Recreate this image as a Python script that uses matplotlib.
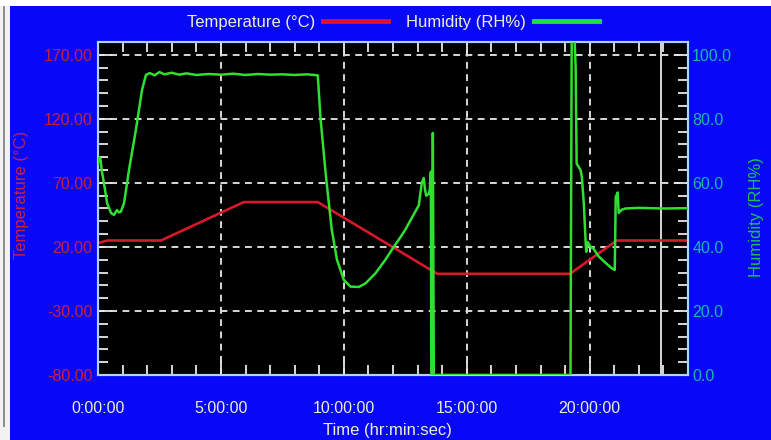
import matplotlib
matplotlib.use("Agg")
import matplotlib.pyplot as plt
from matplotlib.lines import Line2D
from matplotlib.patches import Rectangle
from matplotlib.ticker import MultipleLocator, FixedLocator, FuncFormatter

plt.rcParams['font.family'] = ['Liberation Sans', 'DejaVu Sans']

# ---------------- data ----------------
temp_time = [0.0, 0.38, 2.56, 5.93, 8.94, 13.8, 19.2, 21.1, 24.0]
temp_vals = [23.0, 25.0, 25.0, 55.0, 55.0, -1.0, -1.0, 25.0, 25.0]

hum_time = [0.0, 0.05, 0.10, 0.15, 0.24, 0.37, 0.53, 0.65, 0.77, 0.85, 0.93, 1.06,
            1.26, 1.54, 1.79, 1.95, 2.1, 2.3, 2.5, 2.7, 3.0, 3.3, 3.6, 4.0, 4.5,
            5.0, 5.5, 6.0, 6.5, 7.0, 7.5, 8.0, 8.5, 8.94, 9.05, 9.26, 9.39, 9.51,
            9.72, 10.0, 10.27, 10.61, 10.88, 11.29, 11.69, 12.03, 12.3, 12.51,
            12.76, 13.05, 13.17, 13.25, 13.3, 13.35, 13.45, 13.5, 13.54, 13.56,
            13.6, 13.62, 13.66, 19.22, 19.27, 19.38, 19.43, 19.47, 19.55, 19.63,
            19.68, 19.76, 19.84, 19.86, 19.92, 20.04, 20.15, 20.37, 20.65, 20.89,
            21.02, 21.06, 21.14, 21.18, 21.3, 21.46, 22.0, 23.0, 24.0]
hum_vals = [66.0, 68.0, 67.5, 64.0, 60.0, 53.7, 50.6, 50.0, 51.5, 50.8, 51.0, 53.7,
            64.0, 76.5, 89.0, 93.7, 94.3, 93.6, 94.6, 93.9, 94.4, 93.8, 94.2, 93.7, 94.0,
            93.8, 94.1, 93.7, 94.0, 93.8, 93.9, 93.7, 93.9, 93.6, 80.3, 63.0, 53.7, 45.3,
            36.0, 29.7, 27.6, 27.5, 28.6, 31.8, 36.0, 40.0, 43.0, 45.5,
            49.0, 53.0, 60.0, 61.5, 58.0, 56.0, 56.5, 58.0, 63.5, 0.0,
            0.0, 75.6, 0.0, 0.0, 106.0, 106.0, 96.0, 66.0, 65.0, 64.0,
            62.0, 53.7, 41.0, 38.5, 41.5, 40.0, 39.5, 37.0, 35.0, 33.4,
            32.8, 55.6, 57.0, 50.6, 51.6, 52.0, 52.2, 52.0, 52.1]

cursor_time = 22.9

x_major = [0, 5, 10, 15, 20]
x_labels = ["0:00:00", "5:00:00", "10:00:00", "15:00:00", "20:00:00"]
t_major = [-80, -30, 20, 70, 120, 170]
h_major = [0, 20, 40, 60, 80, 100]

# ---------------- style ----------------
BLUE = '#0808f8'
RED = '#d8182a'
GREEN = '#30e030'
SPINE = '#a8d8f8'
TICKC = '#e8e8e8'
XLAB = '#eeeec8'
TLAB = '#c8203c'
HTICK = '#18b8a8'
HLAB = '#20c050'

fig = plt.figure(figsize=(7.71, 4.40), dpi=100, facecolor=BLUE)
W, H = 771, 440

# border strips
fig.patches.append(Rectangle((0, 0), 10 / W, 1, transform=fig.transFigure,
                             facecolor='#f2f2f2', edgecolor='none', zorder=0))
fig.patches.append(Rectangle((3 / W, 13 / H), 1.5 / W, 1 - 13 / H, transform=fig.transFigure,
                             facecolor='#909090', edgecolor='none', zorder=0))
fig.patches.append(Rectangle((0, 1 - 6 / H), 1, 6 / H, transform=fig.transFigure,
                             facecolor='#ffffff', edgecolor='none', zorder=0))

ax = fig.add_axes([98 / W, (H - 375) / H, 590 / W, 333 / H])
ax.set_facecolor('black')
ax2 = ax.twinx()

ax.plot(temp_time, temp_vals, color=RED, lw=1.9, zorder=3)
ax.axvline(cursor_time, color='#d8d8d8', lw=1.4, zorder=2)
ax2.plot(hum_time, hum_vals, color=GREEN, lw=1.8, zorder=4)

ax.set_xlim(0, 24)
ax.set_ylim(-80, 180)
ax2.set_ylim(0, 104)

ax.xaxis.set_major_locator(FixedLocator(x_major))
ax.set_xticklabels(x_labels)
ax.xaxis.set_minor_locator(MultipleLocator(1))
ax.yaxis.set_major_locator(FixedLocator(t_major))
ax.yaxis.set_minor_locator(MultipleLocator(10))
ax.yaxis.set_major_formatter(FuncFormatter(lambda v, p: f"{v:.2f}"))
ax2.yaxis.set_major_locator(FixedLocator(h_major))
ax2.yaxis.set_minor_locator(MultipleLocator(4))
ax2.yaxis.set_major_formatter(FuncFormatter(lambda v, p: f"{v:.1f}"))

ax.grid(True, which='major', color='#d8d8d8', linestyle=(0, (3.5, 2.8)), lw=1.4, zorder=1)

ax.tick_params(axis='x', which='both', direction='in', top=True, bottom=True,
               color=TICKC, width=1.3, labelcolor=XLAB, labelsize=11.5, pad=19)
ax.tick_params(axis='x', which='major', length=10)
ax.tick_params(axis='x', which='minor', length=7)
ax.tick_params(axis='y', which='both', direction='in', left=True, right=False,
               color=TICKC, width=1.3, labelcolor=TLAB, labelsize=11.5, pad=4)
ax.tick_params(axis='y', which='major', length=10)
ax.tick_params(axis='y', which='minor', length=7)
ax2.tick_params(axis='y', which='both', direction='in', right=True,
                color=TICKC, width=1.3, labelcolor=HTICK, labelsize=11.5, pad=3)
ax2.tick_params(axis='y', which='major', length=10)
ax2.tick_params(axis='y', which='minor', length=7)

for a in (ax, ax2):
    for s in a.spines.values():
        s.set_color(SPINE)
        s.set_linewidth(1.5)

fig.text(22 / W, 1 - 195 / H, "Temperature (°C)", rotation=90, color=TLAB,
         fontsize=12, ha='center', va='center')
fig.text(757 / W, 1 - 217 / H, "Humidity (RH%)", rotation=90, color=HLAB,
         fontsize=12, ha='center', va='center')
fig.text(387 / W, 1 - 430 / H, "Time (hr:min:sec)", color=XLAB,
         fontsize=12, ha='center', va='center')

handles = [Line2D([], [], color='#e01030', lw=3.5), Line2D([], [], color='#20e040', lw=3.5)]
leg = fig.legend(handles, ["Temperature (°C)", "Humidity (RH%)"], loc='center',
                 bbox_to_anchor=(393 / W, 1 - 22 / H), ncol=2, frameon=False,
                 markerfirst=False, handlelength=3.9, handletextpad=0.45,
                 columnspacing=1.1, fontsize=12, borderpad=0)
for t in leg.get_texts():
    t.set_color(XLAB)

fig.savefig("out.png", dpi=100, facecolor=BLUE)
